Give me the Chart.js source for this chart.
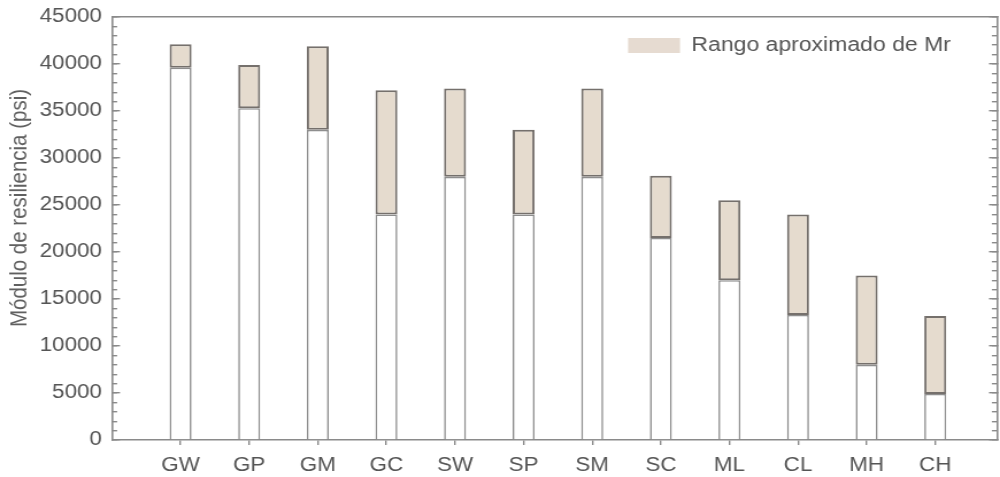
<!DOCTYPE html>
<html>
<head>
<meta charset="utf-8">
<script src="https://cdn.jsdelivr.net/npm/chart.js@4.4.1/dist/chart.umd.min.js"></script>
<style>
  html, body { margin: 0; padding: 0; background: #ffffff; overflow: hidden; }
  /* the figure is drawn on a narrower canvas and widened horizontally */
  #wrap { width: 870px; height: 477px; transform: scaleX(1.149425); transform-origin: 0 0; }
  canvas { display: block; }
</style>
</head>
<body>
<div id="wrap"><canvas id="chart" width="870" height="477"></canvas></div>
<script>
// Soil classes and the approximate resilient-modulus range (psi) of each
const categories = ['GW', 'GP', 'GM', 'GC', 'SW', 'SP', 'SM', 'SC', 'ML', 'CL', 'MH', 'CH'];
const mrLower = [39600, 35300, 33000, 24000, 28000, 24000, 28000, 21500, 17000, 13300, 8000, 4900];
const mrUpper = [42100, 39900, 41900, 37200, 37400, 33000, 37400, 28100, 25500, 24000, 17500, 13200];
const yMajorTicks = [0, 5000, 10000, 15000, 20000, 25000, 30000, 35000, 40000, 45000];
const yMinorStep = 1000;
const rangeLabel = 'Rango aproximado de Mr';
const yAxisTitle = 'Módulo de resiliencia (psi)';

const FONT = '"Liberation Sans", Arial, Helvetica, sans-serif';
const TEXT = '#555555';
const AXIS = '#8a8a8a';
const RANGE_FILL = '#e5dbce';
const RANGE_EDGE = '#75706c';

const yMin = yMajorTicks[0];
const yMax = yMajorTicks[yMajorTicks.length - 1];
const yMinorTicks = [];
for (let v = yMin; v <= yMax; v += yMinorStep) yMinorTicks.push(v);

const baseData = categories.map((c, i) => ({ x: i, y: [0, mrLower[i]] }));
const rangeData = categories.map((c, i) => ({ x: i, y: [mrLower[i], mrUpper[i]] }));

const setTicks = (values) => (scale) => { scale.ticks = values.map(v => ({ value: v })); };

// fixed axis thickness; label overhang must not push the plot area inwards
const fixedWidth = (w) => (s) => {
  s.width = w;
  s.paddingTop = 0; s.paddingBottom = 0; s.paddingLeft = 0; s.paddingRight = 0;
};
const fixedHeight = (h) => (s) => {
  s.height = h;
  s.paddingTop = 0; s.paddingBottom = 0; s.paddingLeft = 0; s.paddingRight = 0;
};

// Puts the legend inside the plot, upper right
const legendPlacement = {
  id: 'legendPlacement',
  afterLayout(chart) {
    const lg = chart.legend;
    if (!lg) return;
    const pad = lg.options.labels.padding;
    const w = lg.width, h = lg.height;
    lg.left = 546.4 - pad;
    lg.top = 35.5 - pad;
    lg.right = lg.left + w;
    lg.bottom = lg.top + h;
  }
};

// Rotated title of the value axis
const yTitlePlugin = {
  id: 'yTitle',
  afterDraw(chart) {
    const ctx = chart.ctx;
    ctx.save();
    ctx.translate(17.4, 208);
    ctx.rotate(-Math.PI / 2);
    ctx.font = '20.5px ' + FONT;
    ctx.fillStyle = '#606060';
    ctx.textAlign = 'center';
    ctx.textBaseline = 'middle';
    ctx.fillText(yAxisTitle, 0, 0);
    ctx.restore();
  }
};

const sideAxis = (position, weight, ticks, width, tickLength, showBorder) => ({
  type: 'linear',
  position,
  weight,
  min: yMin,
  max: yMax,
  afterBuildTicks: setTicks(ticks),
  afterFit: fixedWidth(width),
  ticks: { display: false },
  grid: { drawOnChartArea: false, drawTicks: true, tickLength, color: AXIS, lineWidth: 1.4 },
  border: { display: showBorder, color: AXIS, width: 1.6 }
});

new Chart(document.getElementById('chart'), {
  type: 'bar',
  data: {
    datasets: [
      {
        label: 'base',
        data: baseData,
        backgroundColor: '#ffffff',
        borderColor: '#8e8e8e',
        borderWidth: 1.6,
        borderSkipped: 'start',
        grouped: false,
        barPercentage: 0.32,
        categoryPercentage: 1,
        order: 2
      },
      {
        label: rangeLabel,
        data: rangeData,
        backgroundColor: RANGE_FILL,
        borderColor: RANGE_EDGE,
        borderWidth: 2,
        borderSkipped: false,
        grouped: false,
        barPercentage: 0.32,
        categoryPercentage: 1,
        order: 1
      }
    ]
  },
  options: {
    responsive: false,
    animation: false,
    devicePixelRatio: 1,
    layout: { padding: 0 },
    font: { family: FONT },
    scales: {
      x: {
        type: 'linear',
        position: 'bottom',
        min: -1,
        max: 11.9,
        offset: false,
        afterBuildTicks: setTicks(categories.map((c, i) => i)),
        afterFit: fixedHeight(37),
        ticks: {
          callback: (v) => (categories[v] !== undefined ? categories[v] : ''),
          color: TEXT,
          font: { family: FONT, size: 19.5 },
          padding: 9,
          autoSkip: false,
          maxRotation: 0
        },
        grid: { offset: false, drawOnChartArea: false, drawTicks: true, tickLength: 5, color: AXIS, lineWidth: 1.4 },
        border: { display: true, color: AXIS, width: 1.6 }
      },
      xTop: {
        type: 'linear',
        position: 'top',
        min: -1,
        max: 11.9,
        offset: false,
        afterFit: fixedHeight(17),
        ticks: { display: false },
        grid: { display: true, drawOnChartArea: false, drawTicks: false },
        border: { display: true, color: AXIS, width: 1.6 }
      },
      y: {
        type: 'linear',
        position: 'left',
        weight: 1,
        min: yMin,
        max: yMax,
        afterBuildTicks: setTicks(yMajorTicks),
        afterFit: fixedWidth(97.4),
        ticks: {
          callback: (v) => String(v),
          color: TEXT,
          font: { family: FONT, size: 19.5 },
          padding: 15.7
        },
        grid: { drawOnChartArea: false, drawTicks: true, tickLength: -7, color: AXIS, lineWidth: 1.4 },
        border: { display: true, color: AXIS, width: 1.6 }
      },
      yMinor: sideAxis('left', 0, yMinorTicks, 0, -4.5, false),
      yRight: sideAxis('right', 1, yMajorTicks, 2.6, -7, true),
      yRightMinor: sideAxis('right', 0, yMinorTicks, 0, -4.5, false)
    },
    plugins: {
      tooltip: { enabled: false },
      title: { display: false },
      legend: {
        display: true,
        position: 'chartArea',
        fullSize: false,
        align: 'start',
        labels: {
          boxWidth: 45.2,
          boxHeight: 15,
          padding: 10,
          color: TEXT,
          font: { family: FONT, size: 20 },
          generateLabels: (chart) =>
            Chart.defaults.plugins.legend.labels.generateLabels(chart)
              .filter(item => item.text === rangeLabel)
              .map(item => Object.assign({}, item, { lineWidth: 0, fillStyle: '#e6dbd1' }))
        }
      }
    }
  },
  plugins: [legendPlacement, yTitlePlugin]
});
</script>
</body>
</html>
